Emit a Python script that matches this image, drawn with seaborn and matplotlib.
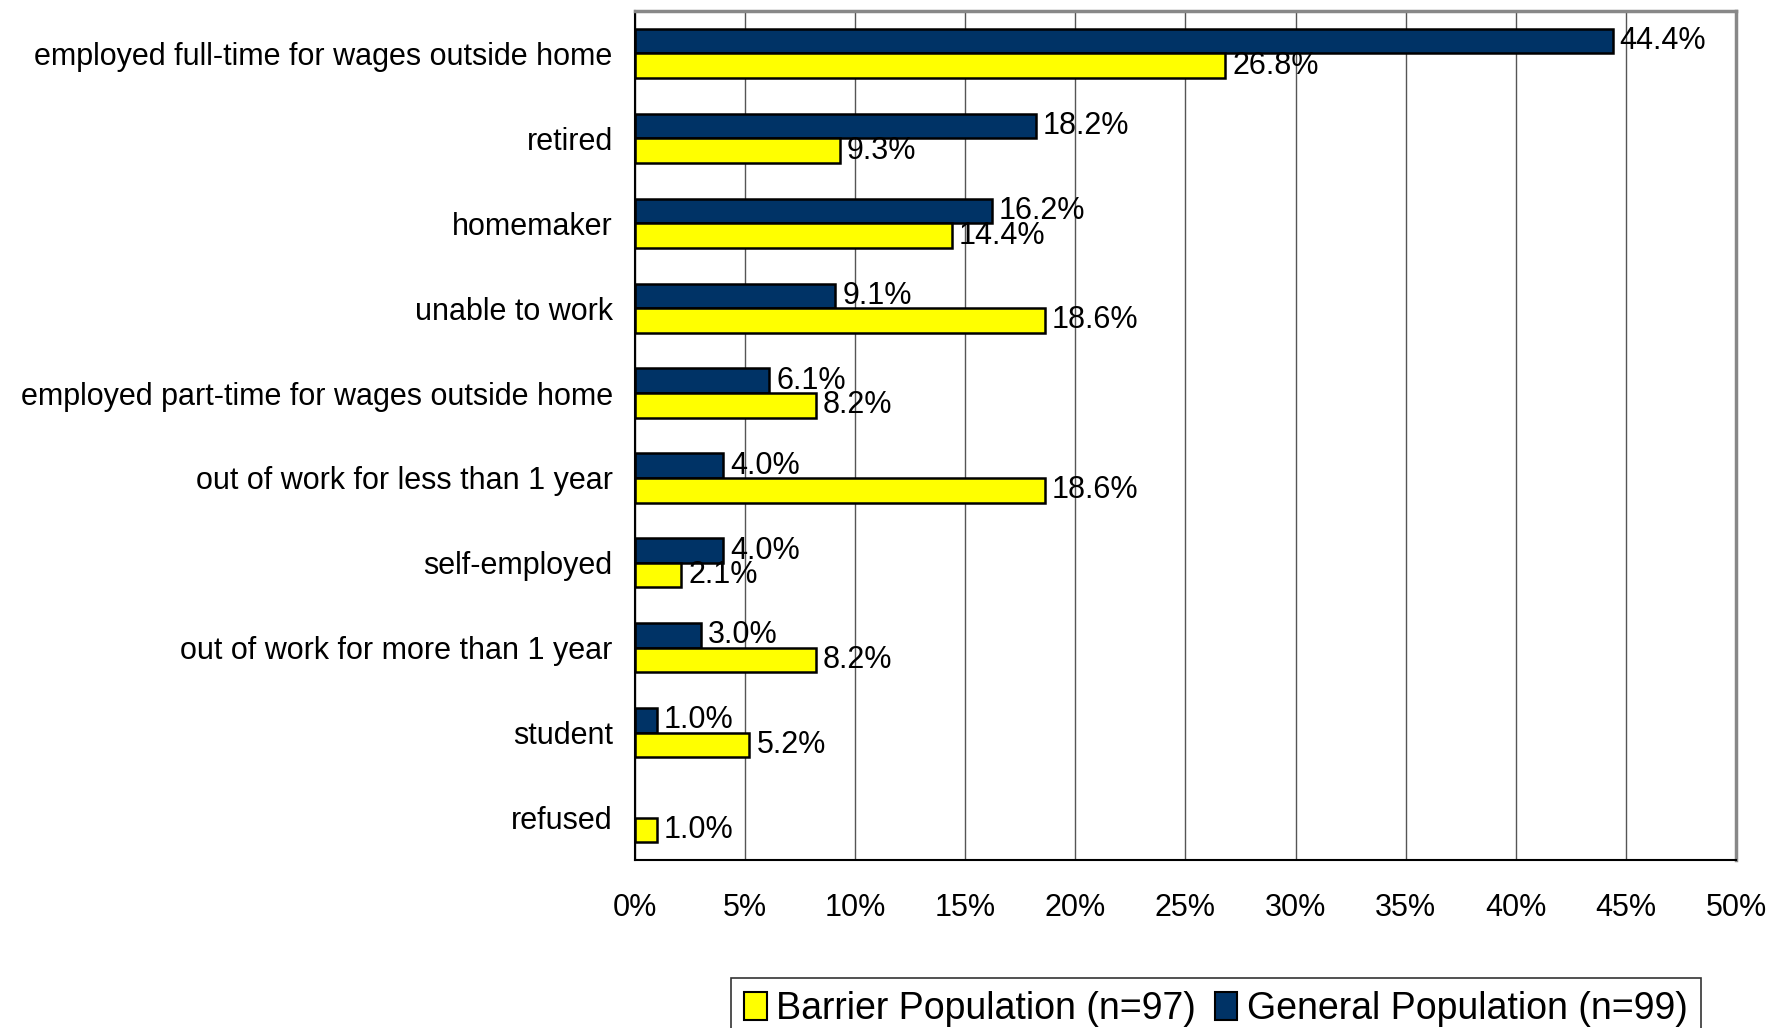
import pandas as pd
import seaborn as sns
import matplotlib.pyplot as plt
from matplotlib.patches import Patch

categories = ["employed full-time for wages outside home", "retired", "homemaker",
              "unable to work", "employed part-time for wages outside home",
              "out of work for less than 1 year", "self-employed",
              "out of work for more than 1 year", "student", "refused"]
general = [44.4, 18.2, 16.2, 9.1, 6.1, 4.0, 4.0, 3.0, 1.0, None]
barrier = [26.8, 9.3, 14.4, 18.6, 8.2, 18.6, 2.1, 8.2, 5.2, 1.0]
series = ["General Population (n=99)", "Barrier Population (n=97)"]
colors = {series[0]: "#003366", series[1]: "#ffff00"}

rows = []
for c, g, b in zip(categories, general, barrier):
    if g is not None:
        rows.append((c, series[0], g))
    rows.append((c, series[1], b))
df = pd.DataFrame(rows, columns=["status", "group", "pct"])

sns.set_style("white")
plt.rcParams["font.family"] = ["Liberation Sans", "DejaVu Sans"]
plt.rcParams["text.color"] = "black"
plt.rcParams["xtick.color"] = "black"
plt.rcParams["ytick.color"] = "black"

fig = plt.figure(figsize=(17.87, 10.28), dpi=100)
ax = fig.add_axes([0.3553, 0.1634, 0.6162, 0.8259])

sns.barplot(data=df, y="status", x="pct", hue="group", order=categories,
            hue_order=series, palette=colors, saturation=1, orient="h", width=0.58,
            edgecolor="black", linewidth=1.8, ax=ax, legend=False)

for cont in ax.containers:
    ax.bar_label(cont, fmt="%.1f%%", padding=5, fontsize=22)

ax.set_xlim(0, 50)
ax.set_ylim(len(categories) - 0.5, -0.5)
ax.set_xticks(range(0, 51, 5))
ax.set_xticklabels([f"{v}%" for v in range(0, 51, 5)], fontsize=22)
ax.set_yticks(range(len(categories)))
ax.set_yticklabels(categories, fontsize=22)
ax.set_yticks([i + 0.5 for i in range(-1, len(categories))], minor=True)
ax.tick_params(axis="y", which="major", length=0, pad=16)
ax.tick_params(axis="y", which="minor", length=8, width=1.2, direction="out", color="black")
ax.tick_params(axis="x", length=10, width=1.2, direction="out", color="black", pad=14)
ax.set_xlabel("")
ax.set_ylabel("")

ax.grid(axis="x", color="#555555", linewidth=1)
ax.set_axisbelow(True)
for s in ["top", "right"]:
    ax.spines[s].set_color("#888888")
    ax.spines[s].set_linewidth(2.5)
for s in ["left", "bottom"]:
    ax.spines[s].set_color("black")
    ax.spines[s].set_linewidth(1.5)

handles = [Patch(facecolor=colors[series[1]], edgecolor="black", linewidth=1.5, label=series[1]),
           Patch(facecolor=colors[series[0]], edgecolor="black", linewidth=1.5, label=series[0])]
leg = fig.legend(handles=handles, ncol=2, loc="lower center",
                 bbox_to_anchor=(0.6805, -0.03), fontsize=27, frameon=True,
                 fancybox=False, edgecolor="black", handlelength=0.6,
                 handleheight=0.8, handletextpad=0.25, columnspacing=0.5,
                 borderpad=0.35)
leg.get_frame().set_linewidth(1.2)

fig.savefig("out.png", dpi=100)
